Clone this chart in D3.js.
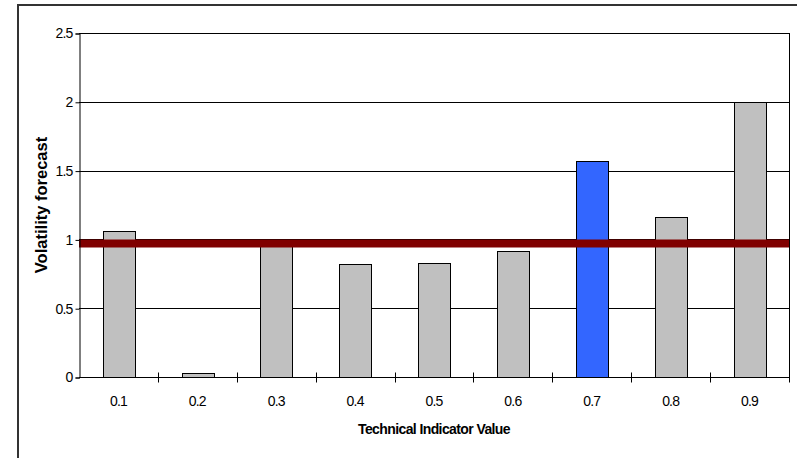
<!DOCTYPE html>
<html>
<head>
<meta charset="utf-8">
<script src="https://cdn.jsdelivr.net/npm/d3@7"></script>
<style>
  html, body { margin: 0; padding: 0; background: #fff; }
  svg { display: block; }
  text { font-family: "Liberation Sans", Arial, sans-serif; fill: #000; }
</style>
</head>
<body>
<svg id="chart" width="797" height="458"></svg>
<script>
// Volatility forecast by technical indicator bucket
const categories = ["0.1", "0.2", "0.3", "0.4", "0.5", "0.6", "0.7", "0.8", "0.9"];
const forecast   = [1.06, 0.03, 0.98, 0.82, 0.83, 0.915, 1.57, 1.16, 2.0];
const highlight  = ["0.7"];
const baseline   = [0.97];
const yTicks     = [0, 0.5, 1, 1.5, 2, 2.5];
const yTickLabels = ["0", "0.5", "1", "1.5", "2", "2.5"];

const svg = d3.select("#chart");
const plot = { left: 79, right: 789, top: 33, bottom: 377 };

// Chart area frame
svg.append("rect")
  .attr("x", 18).attr("y", 5)
  .attr("width", 800).attr("height", 480)
  .attr("fill", "#fff")
  .attr("stroke", "#333").attr("stroke-width", 2);

const x = d3.scaleBand()
  .domain(categories)
  .range([plot.left, plot.right])
  .paddingInner(0)
  .paddingOuter(0);

const y = d3.scaleLinear()
  .domain([0, 2.5])
  .range([plot.bottom, plot.top]);

// Horizontal gridlines
svg.append("g")
  .selectAll("line")
  .data(yTicks.filter(d => d > 0))
  .join("line")
  .attr("x1", plot.left).attr("x2", plot.right)
  .attr("y1", d => Math.round(y(d)) + 0.5)
  .attr("y2", d => Math.round(y(d)) + 0.5)
  .attr("stroke", "#000").attr("stroke-width", 1);

// Right border of the plot area
svg.append("line")
  .attr("x1", plot.right + 0.5).attr("x2", plot.right + 0.5)
  .attr("y1", plot.top).attr("y2", plot.bottom)
  .attr("stroke", "#000").attr("stroke-width", 1);

// Bars (150% gap width)
const barW = x.bandwidth() / 2.5;
svg.append("g")
  .selectAll("rect")
  .data(categories.map((c, i) => ({ c, v: forecast[i] })))
  .join("rect")
  .attr("x", d => Math.round(x(d.c) + (x.bandwidth() - barW) / 2) + 0.5)
  .attr("y", d => Math.round(y(d.v)) + 0.5)
  .attr("width", Math.round(barW))
  .attr("height", d => Math.round(y(0)) - Math.round(y(d.v)))
  .attr("fill", d => highlight.includes(d.c) ? "#3366ff" : "#c0c0c0")
  .attr("stroke", "#000").attr("stroke-width", 1);

// Reference level
svg.append("g")
  .selectAll("line")
  .data(baseline)
  .join("line")
  .attr("x1", plot.left).attr("x2", plot.right)
  .attr("y1", d => y(d)).attr("y2", d => y(d))
  .attr("stroke", "#800000").attr("stroke-width", 8);

// Y axis
const yAxis = d3.axisLeft(y)
  .tickValues(yTicks)
  .tickFormat((d, i) => yTickLabels[i])
  .tickSize(4)
  .tickPadding(3);
const gy = svg.append("g")
  .attr("transform", `translate(${plot.left + 0.5},0.5)`)
  .call(yAxis);
gy.select(".domain").attr("stroke", "#000");
gy.selectAll(".tick line").attr("stroke", "#000");
gy.selectAll(".tick text")
  .attr("font-size", 14)
  .attr("letter-spacing", "-0.8px")
  .attr("font-family", "'Liberation Sans', Arial, sans-serif");

// X axis with ticks between categories
const gx = svg.append("g")
  .attr("transform", `translate(0,${Math.round(plot.bottom) + 0.5})`);
gx.append("line")
  .attr("x1", plot.left).attr("x2", plot.right + 1)
  .attr("stroke", "#000");
const boundaries = categories.map(c => x(c) + x.bandwidth());
gx.selectAll("line.tk")
  .data(boundaries)
  .join("line")
  .attr("class", "tk")
  .attr("x1", d => Math.round(d) + 0.5).attr("x2", d => Math.round(d) + 0.5)
  .attr("y1", -5).attr("y2", 5)
  .attr("stroke", "#000");
gx.selectAll("text")
  .data(categories)
  .join("text")
  .attr("x", d => x(d) + x.bandwidth() / 2)
  .attr("y", 28.5)
  .attr("text-anchor", "middle")
  .attr("font-size", 14)
  .attr("letter-spacing", "-0.8px")
  .text(d => d);

// Axis titles
svg.append("text")
  .attr("x", (plot.left + plot.right) / 2)
  .attr("y", 434)
  .attr("text-anchor", "middle")
  .attr("font-size", 14)
  .attr("font-weight", "bold")
  .attr("letter-spacing", "-0.6px")
  .text("Technical Indicator Value");

svg.append("text")
  .attr("transform", `translate(47,${(plot.top + plot.bottom) / 2}) rotate(-90)`)
  .attr("text-anchor", "middle")
  .attr("font-size", 16.5)
  .attr("font-weight", "bold")
  .text("Volatility forecast");
</script>
</body>
</html>
